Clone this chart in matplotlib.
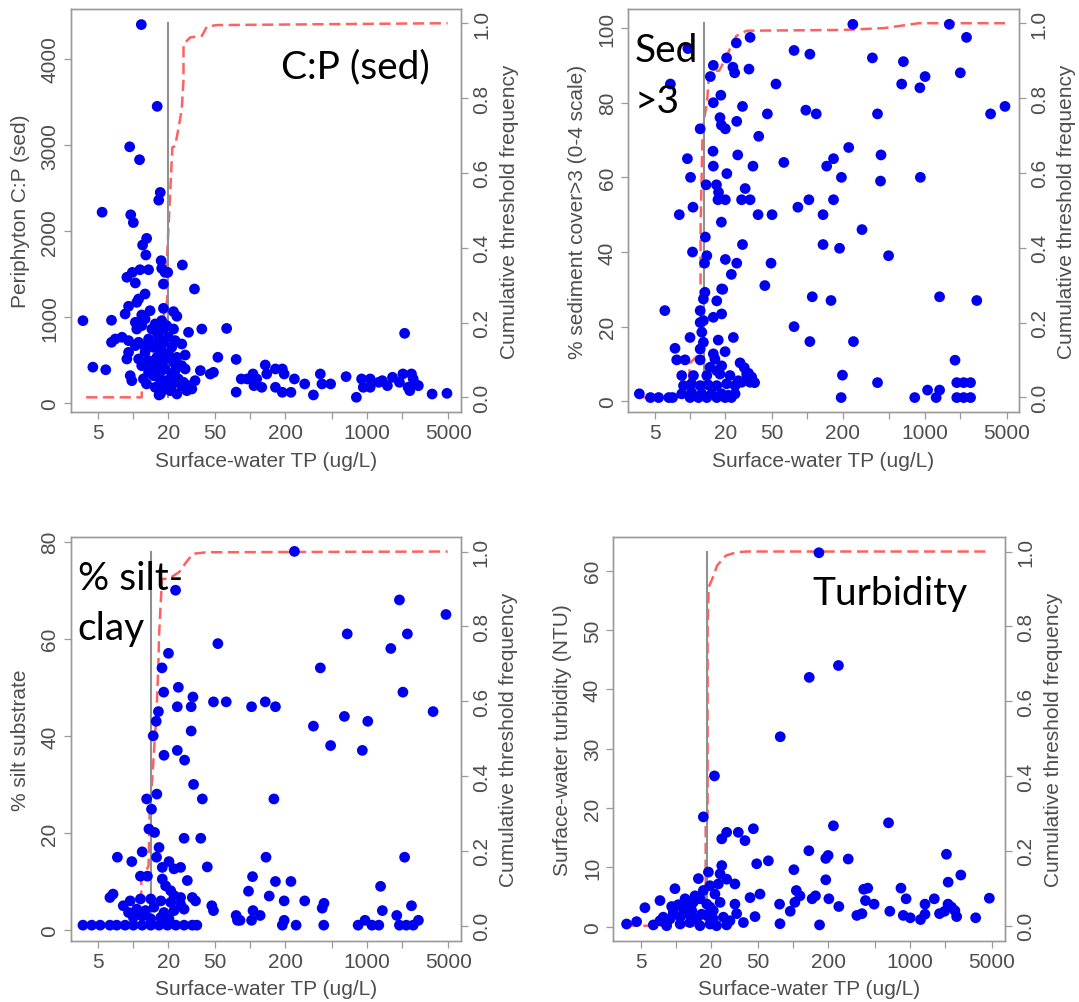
import matplotlib
matplotlib.use("Agg")
import matplotlib.pyplot as plt

plt.rcParams["font.family"] = ["Liberation Sans", "DejaVu Sans"]

W, H = 1079, 1003
GREY_TXT = "#4d4d4d"
GREY_AX = "#9a9a9a"
POINT_BLUE = "#0000f0"
CUM_RED = "#ff5050"
THR_GREY = "#909090"

x_ticks = [5, 10, 20, 50, 100, 200, 500, 1000, 2000, 5000]
x_tick_labels = ["5", "", "20", "50", "", "200", "", "1000", "", "5000"]
cum_ticks = [0.0, 0.2, 0.4, 0.6, 0.8, 1.0]
x_label = "Surface-water TP (ug/L)"
cum_label = "Cumulative threshold frequency"

# ---- panel 1: periphyton C:P (sed) ----
cp_points = [
    (11.7, 4400), (16, 3450), (9.3, 2980), (11.3, 2830), (17, 2450), (16.5, 2360),
    (5.4, 2220), (9.5, 2190), (10, 2100),
    (3.7, 960), (4.5, 420), (5.8, 390), (6.5, 965),
    (63, 870), (53, 535), (76, 510), (76, 130), (45.6, 340), (48.6, 360), (37.5, 380),
    (84, 283), (94.6, 283), (106, 341), (108, 205), (114, 283), (135, 445), (139, 341),
    (126, 186), (165, 399), (189, 399), (196, 341), (165, 186), (189, 128), (224, 128),
    (240, 283), (294, 225), (349, 97), (400, 341), (413, 225), (490, 225), (665, 310),
    (815, 70), (903, 283), (934, 186), (1070, 283), (1070, 186), (1267, 244), (1357, 263),
    (1503, 205), (1662, 302), (1905, 244), (2040, 341), (2260, 186), (2416, 341),
    (2500, 283), (2588, 225), (2768, 205), (2336, 147), (2110, 813), (3630, 108),
    (4865, 116), (17, 108), (18.5, 244), (16.6, 97),
    (13.0, 1916), (12.0, 1839), (12.8, 1723), (17.3, 1657), (26.3, 1607), (17.5, 1568),
    (18.7, 1521), (19.7, 1521), (13.5, 1552), (11.4, 1552), (9.8, 1521), (8.8, 1464),
    (10.4, 1398), (18.1, 1386), (33.4, 1328), (12.6, 1270), (11.1, 1212), (10.7, 1173),
    (9.1, 1127), (8.5, 1038), (18.1, 1103), (22.1, 1065), (23.6, 1011), (13.9, 1076),
    (11.8, 1026), (10.4, 941), (12.6, 980), (15.4, 922), (17.5, 960), (19.3, 902),
    (22.1, 863), (38.6, 863), (29.7, 825), (7.0, 747), (8.0, 767), (9.1, 728), (6.5, 709),
    (11.1, 709), (13.5, 747), (16.4, 786), (20.0, 767), (22.8, 728), (26.0, 689),
    (9.1, 592), (8.8, 515), (12.6, 592), (14.9, 650), (17.5, 612), (20.0, 573),
    (23.6, 534), (27.8, 561), (11.8, 437), (13.9, 476), (16.4, 437), (18.7, 399),
    (26.0, 437), (27.8, 399), (9.4, 321), (9.7, 263), (12.2, 283), (13.5, 360),
    (14.9, 321), (16.4, 302), (17.5, 244), (19.3, 263), (21.3, 321), (24.3, 283),
    (26.9, 244), (29.7, 205), (33.8, 263), (17.0, 109), (18.7, 205), (21.3, 205),
    (26.0, 205), (28.7, 147), (31.7, 167), (10.7, 863), (11.8, 902), (14.4, 863),
    (15.9, 825), (18.1, 863), (10.4, 670), (12.6, 650), (15.4, 689), (18.1, 709),
    (21.3, 650), (11.1, 515), (13.5, 496), (15.9, 534), (18.7, 515), (22.1, 476),
    (14.4, 399), (17.0, 360), (22.8, 379), (13.0, 225), (15.4, 186), (20.7, 147),
    (23.6, 109), (18.1, 167),
]
cp_cum_x = [3.94, 11.8, 11.8, 15, 19.5, 19.5, 21.6, 22.8, 24.3, 26.0, 26.9, 26.9,
            30.7, 38.6, 42.7, 51.9, 4930]
cp_cum_y = [0, 0, 0.03, 0.1, 0.26, 0.38, 0.668, 0.672, 0.717, 0.77, 0.85, 0.944,
            0.962, 0.966, 0.991, 0.995, 1.0]
cp_threshold = 20.0

# ---- panel 2: % sediment cover > 3 ----
sed_points = [
    (3.7, 2), (4.6, 1), (5.4, 1), (6.6, 1), (7.1, 1),
    (6.8, 85), (8.1, 50), (9.5, 65), (10.1, 60), (10.5, 40), (10.6, 52), (9.6, 94.5),
    (12.2, 73), (13.5, 44), (13.3, 37), (13.9, 39), (14.9, 87), (15.8, 90), (15.8, 80),
    (15.7, 67), (15.8, 63), (13.7, 58), (16.8, 58), (18.3, 82), (18, 76), (18.5, 74),
    (20, 73), (20.5, 92), (23.2, 89.5), (24, 88), (24.8, 96), (32.5, 97.5), (31.8, 89),
    (28, 79), (25, 75), (25.5, 66), (20.6, 61), (17.3, 54), (20, 54), (18.5, 48),
    (27.5, 54), (32.5, 54), (29.5, 57), (34.4, 63), (28, 42), (38.5, 71), (38, 50),
    (50, 50), (45.6, 77), (54, 85), (49, 37), (43.4, 31), (20, 38), (25, 37), (22.5, 34),
    (19, 30), (17.5, 56),
    (63, 64), (77, 94), (105, 93), (97, 78), (119, 77), (83, 52), (103, 54), (77, 20),
    (105, 16), (110, 28), (136, 50), (146, 63), (167, 65), (167, 54), (136, 42),
    (159, 27), (195, 60), (188, 41), (225, 68), (244, 101), (247, 16), (199, 7), (194, 1),
    (292, 46), (358, 92), (396, 77), (424, 66), (420, 59), (492, 39), (396, 5), (658, 91),
    (636, 85), (909, 84), (1007, 87), (918, 60), (822, 1), (1057, 3), (1251, 1),
    (1338, 3), (1338, 28), (1620, 101), (2010, 88), (2270, 97.5), (1812, 11), (1875, 5),
    (2146, 5), (2457, 5), (1875, 1), (2146, 1), (2457, 1), (2776, 27), (3640, 77),
    (4830, 79),
    (29, 9), (31.5, 7.5), (33.5, 6.5), (35.5, 5),
    (13.4, 29.2), (18.6, 30.1), (13.0, 27.4), (16.9, 26.9), (6.1, 24.3), (12.2, 24.3),
    (15.8, 22.5), (18.6, 23.4), (12.2, 21.1), (13.0, 21.6), (10.0, 17.1), (12.6, 18.5),
    (13.0, 15.8), (17.4, 16.4), (23.4, 17.1), (7.45, 14.2), (12.2, 14.0), (15.8, 12.7),
    (19.9, 13.3), (7.7, 11.1), (9.06, 11.1), (12.2, 11.1), (16.3, 11.3), (18.6, 9.5),
    (26.7, 10.3), (14.8, 9.1), (16.9, 8.2), (30.4, 7.3), (25.8, 5.5), (32.5, 5.1),
    (8.5, 6.9), (10.7, 6.9), (13.9, 6.9), (18.0, 7.3), (21.9, 6.9), (8.8, 4.2),
    (10.3, 4.7), (12.2, 4.2), (14.3, 4.4), (16.9, 4.2), (20.5, 4.7), (24.2, 4.2),
    (8.5, 2.0), (10.3, 2.4), (12.6, 2.0), (15.3, 2.0), (18.6, 2.0), (21.2, 1.6),
    (10.0, 1), (11.8, 1), (13.9, 1), (16.9, 1), (19.9, 1), (24.2, 2), (27.5, 5.1),
    (22.5, 1),
]
sed_cum_x = [3.7, 9.9, 9.9, 12.3, 12.3, 12.8, 14.0, 14.4, 16.0, 17.7, 20.3, 22.4,
             24.8, 30.4, 202, 454, 892, 4830]
sed_cum_y = [0, 0, 0.09, 0.12, 0.45, 0.72, 0.79, 0.85, 0.873, 0.873, 0.908, 0.939,
             0.966, 0.98, 0.982, 0.987, 1.0, 1.0]
sed_threshold = 13.1

# ---- panel 3: % silt substrate ----
silt_points = [
    (240, 78), (23, 70), (20, 57), (53, 59), (680, 61), (400, 54), (1905, 68), (1607, 58),
    (2228, 61), (4770, 65), (2040, 49), (3700, 45), (1020, 43), (643, 44), (349, 42),
    (490, 38), (916, 37), (2110, 15), (1313, 9), (1360, 4), (1807, 3), (2416, 5),
    (843, 1), (966, 2), (1107, 1), (1268, 1), (1905, 1), (2182, 1), (2500, 1), (2770, 2),
    (428, 1), (415, 4.5), (430, 5.5), (294, 6), (248, 1), (224, 10), (165, 10), (146, 7),
    (196, 6), (189, 1), (196, 2), (160, 27), (137, 15), (135, 47), (165, 46), (103, 46),
    (105, 11), (97, 8), (106, 4), (122, 3), (103, 2), (76, 3), (78, 2), (82, 2),
    (62.5, 47), (48.6, 47), (32.4, 48), (31.3, 46), (24.3, 50), (23.8, 46), (18.2, 49),
    (17.6, 54), (31.3, 41), (14.8, 40), (16.4, 45), (15.7, 43), (18.3, 36), (23.8, 37),
    (27.5, 35), (32.8, 30), (39, 27), (43, 13), (47, 5), (48.6, 4), (15.9, 28),
    (13.0, 27), (14.3, 24.9), (13.6, 20.8), (15.2, 20.1), (27.2, 18.9), (37.8, 18.9),
    (16.6, 17.0), (11.9, 16.1), (15.8, 15.0), (7.3, 15.0), (9.7, 14.1), (20.2, 14.1),
    (17.7, 12.9), (22.3, 12.6), (25.4, 12.9), (11.5, 11.1), (13.2, 11.1), (17.7, 10.5),
    (29.0, 10.2), (18.9, 9.1), (20.9, 8.1), (22.3, 7.1), (25.4, 6.7), (6.7, 7.4),
    (6.3, 6.7), (32.0, 6.7), (34.1, 6.0), (8.2, 5.0), (9.4, 6.0), (11.5, 6.4), (14.1, 6.4),
    (17.2, 6.0), (20.9, 5.7), (25.4, 5.3), (9.1, 3.6), (10.7, 4.3), (12.7, 4.0),
    (15.0, 4.7), (18.3, 3.6), (22.3, 4.0), (27.2, 4.3), (10.0, 2.6), (11.9, 2.9),
    (14.1, 2.3), (17.2, 2.6), (20.2, 2.3),
    (3.7, 1), (4.4, 1), (5.2, 1), (6.3, 1), (7.2, 1), (8.5, 1), (10.0, 1), (11.9, 1),
    (14.1, 1), (16.6, 1), (19.6, 1), (23.1, 1), (27.2, 1), (32.0, 1), (35.0, 1),
]
silt_cum_x = [3.6, 11.7, 11.7, 13.5, 13.8, 14.5, 15.8, 16.4, 16.6, 17.6, 20.1, 24.7,
              28.3, 32.4, 42.5, 4930]
silt_cum_y = [0, 0, 0.12, 0.16, 0.30, 0.39, 0.57, 0.70, 0.775, 0.927, 0.927, 0.945,
              0.971, 0.994, 0.998, 1.0]
silt_threshold = 14.2

# ---- panel 4: turbidity ----
turb_points = [
    (167, 63), (138, 42), (245, 44), (78, 32), (21.4, 25.4), (17.2, 18.5), (222, 17),
    (656, 17.5), (137, 12.8), (191, 11.5), (200, 12), (297, 11.4), (102, 9.6),
    (2050, 12.2), (2720, 8.7), (2120, 7.5), (191, 7.9), (838, 6.5), (403, 6.3),
    (436, 6.5), (4765, 4.8), (927, 4.7), (1614, 4.7), (1344, 3.8), (417, 4.4), (494, 3.8),
    (247, 3.4), (203, 4.7), (146, 4.7), (156, 5.2), (115, 5.2), (107, 6.1), (104, 4.1),
    (77, 3.8), (95, 2.6), (77.6, 0.5), (169, 0.3), (673, 2.6), (352, 1.9), (389, 2.2),
    (877, 1.9), (1005, 1.5), (1231, 1.2), (1344, 2.1), (1788, 2.2), (1977, 2.6),
    (2115, 3.8), (2262, 3.3), (2420, 2.7), (2505, 1.7), (3640, 1.5),
    (27.2, 15.9), (34.2, 15.9), (46.0, 16.5), (24.7, 14.8), (39.0, 14.5), (49.1, 10.6),
    (61.8, 11.1), (24.7, 10.3), (19.0, 9.2), (15.6, 8.1), (23.9, 8.9), (27.2, 8.0),
    (32.0, 7.2), (23.1, 7.2), (19.6, 6.9), (9.84, 6.4), (7.33, 4.4), (5.45, 3.2),
    (43.1, 4.9), (52.4, 5.5), (47.5, 1.7), (32.0, 3.8), (33.1, 2.2), (3.8, 0.45),
    (4.63, 0.85), (6.43, 0.3), (7.82, 1.6), (9.52, 2.4), (12.4, 3.0), (14.1, 4.1),
    (16.1, 4.7), (18.4, 3.8), (20.9, 2.7), (23.9, 4.1), (8.92, 1.3), (10.9, 1.6),
    (13.2, 1.9), (15.1, 1.3), (18.4, 1.9), (20.9, 1.3), (25.5, 1.6), (29.0, 1.0),
    (10.9, 0.45), (13.2, 0.7), (16.1, 0.17), (19.6, 0.45), (22.3, 0.17), (27.2, 0.3),
    (37.8, 0.7), (8.36, 0.17), (7.33, 1.0), (11.6, 3.0), (13.7, 2.7), (16.6, 2.1),
    (19.6, 3.3), (21.6, 5.5), (17.2, 6.1), (14.6, 5.2), (12.0, 4.7), (10.5, 3.7),
    (12.4, 3.8), (9.22, 3.4),
]
turb_cum_x = [3.8, 18.0, 18.0, 18.7, 18.7, 19.1, 20.5, 22.6, 26.8, 32.9, 40.3, 4930]
turb_cum_y = [0, 0, 0.29, 0.30, 0.80, 0.905, 0.927, 0.963, 0.989, 0.998, 1.0, 1.0]
turb_threshold = 18.4

panels = [
    dict(box=(70.6, 10, 461.4, 413.3), pts=cp_points, cx=cp_cum_x, cy=cp_cum_y,
         thr=cp_threshold, ylabel="Periphyton C:P (sed)",
         yticks=[0, 1000, 2000, 3000, 4000], xlim=(2.90, 6470), ylim=(-104.5, 4581)),
    dict(box=(627.8, 10, 1018.7, 413.3), pts=sed_points, cx=sed_cum_x, cy=sed_cum_y,
         thr=sed_threshold, ylabel="% sediment cover>3 (0-4 scale)",
         yticks=[0, 20, 40, 60, 80, 100], xlim=(2.95, 6320), ylim=(-2.95, 105.1)),
    dict(box=(70.6, 538.3, 460.7, 941.7), pts=silt_points, cx=silt_cum_x, cy=silt_cum_y,
         thr=silt_threshold, ylabel="% silt substrate",
         yticks=[0, 20, 40, 60, 80], xlim=(2.90, 6380), ylim=(-2.2, 80.9)),
    dict(box=(613, 538.3, 1004.9, 941.7), pts=turb_points, cx=turb_cum_x, cy=turb_cum_y,
         thr=turb_threshold, ylabel="Surface-water turbidity (NTU)",
         yticks=[0, 10, 20, 30, 40, 50, 60], xlim=(2.91, 6470), ylim=(-2.36, 65.6)),
]

fig = plt.figure(figsize=(W / 100, H / 100), dpi=100)

for p in panels:
    x0, y0, x1, y1 = p["box"]
    rect = [x0 / W, 1 - y1 / H, (x1 - x0) / W, (y1 - y0) / H]
    ax = fig.add_axes(rect)
    ax2 = ax.twinx()
    ax.set_zorder(ax2.get_zorder() + 1)
    ax.patch.set_visible(False)

    # cumulative threshold frequency + threshold line (behind the points)
    ax2.plot(p["cx"], p["cy"], color=CUM_RED, lw=1.8, dashes=(4.5, 2.2), alpha=0.9)
    ax2.plot([p["thr"], p["thr"]], [0, 1], color=THR_GREY, lw=1.5)
    ax2.set_ylim(-0.04, 1.038)

    xs = [pt[0] for pt in p["pts"]]
    ys = [pt[1] for pt in p["pts"]]
    ax.scatter(xs, ys, s=60, color=POINT_BLUE, edgecolors="none")

    ax.set_xscale("log")
    ax.set_xlim(*p["xlim"])
    ax.set_ylim(*p["ylim"])
    ax.set_xticks(x_ticks)
    ax.set_xticklabels(x_tick_labels)
    ax.xaxis.set_minor_locator(plt.NullLocator())
    ax.set_yticks(p["yticks"])
    ax.set_yticklabels([str(v) for v in p["yticks"]], rotation=90, va="center")
    ax2.set_yticks(cum_ticks)
    ax2.set_yticklabels([f"{v:.1f}" for v in cum_ticks], rotation=90, va="center")

    for a in (ax, ax2):
        for s in a.spines.values():
            s.set_color(GREY_AX)
            s.set_linewidth(1.0)
        a.tick_params(direction="out", length=5, width=0.9, color=GREY_AX,
                      labelcolor=GREY_TXT, labelsize=15, pad=3)

    ax.set_xlabel(x_label, fontsize=15, color=GREY_TXT, va="center")
    ax.xaxis.set_label_coords(0.5, -48 / 403.4)
    ax.set_ylabel(p["ylabel"], fontsize=15, color=GREY_TXT, va="center")
    ax.yaxis.set_label_coords(-50 / 391, 0.5)
    ax2.set_ylabel(cum_label, fontsize=15, color=GREY_TXT, va="center", rotation=90)
    ax2.yaxis.set_label_coords(1 + 48 / 391, 0.5)

# panel captions, baseline positions in pixels
captions = [
    ("C:P (sed)", 280.6, 78),
    ("Sed", 634.7, 61.7),
    (">3", 634.7, 113.3),
    ("% silt-", 77.5, 590),
    ("clay", 77.5, 640),
    ("Turbidity", 812, 605),
]
for txt, px, py in captions:
    fig.text(px / W, 1 - py / H, txt, fontsize=28, family=["Lato", "DejaVu Sans"],
             color="black", ha="left", va="baseline")

fig.savefig("out.png", dpi=100)
